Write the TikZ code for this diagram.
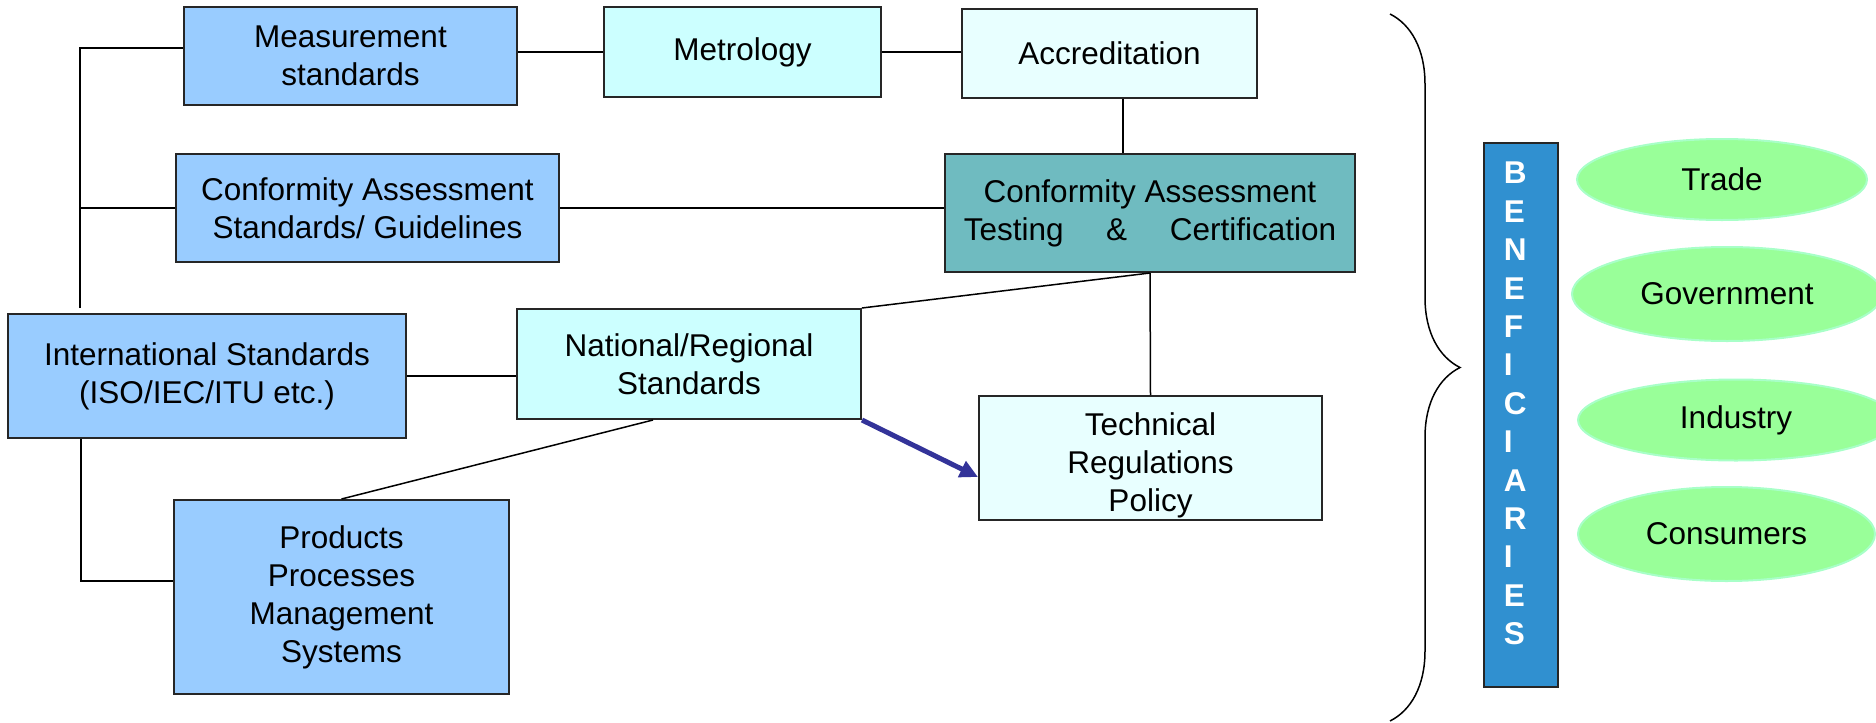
\documentclass[tikz,border=0pt]{standalone}
\usepackage{fontspec}
\setmainfont{Liberation Sans}
\usetikzlibrary{arrows.meta,shapes.geometric,decorations.pathreplacing}

\definecolor{stdblue}{HTML}{99CCFF}
\definecolor{natcyan}{HTML}{CCFFFF}
\definecolor{palecyan}{HTML}{E8FFFF}
\definecolor{casteal}{HTML}{6FBBC0}
\definecolor{benblue}{HTML}{3090D0}
\definecolor{benegreen}{HTML}{99FF99}
\definecolor{beneedge}{HTML}{A8FFC8}
\definecolor{arrowblue}{HTML}{333399}

\def\boxfont{\fontsize{15.75}{19}\selectfont}

\begin{document}
\begin{tikzpicture}[x=0.5pt, y=-0.5pt, line width=0.75pt]
  \tikzstyle{block}=[rectangle, draw=black!85, line width=1pt, align=center, font=\boxfont, inner sep=0pt]
  \tikzstyle{std block}=[block, fill=stdblue]
  \tikzstyle{nat block}=[block, fill=natcyan]
  \tikzstyle{pale block}=[block, fill=palecyan]
  \tikzstyle{ca block}=[block, fill=casteal]
  \tikzstyle{beneficiary}=[ellipse, fill=benegreen, draw=beneedge, line width=1pt, font=\boxfont, inner sep=0pt]
  \tikzstyle{ben letter}=[text=white, font=\boxfont\bfseries, inner sep=0pt, anchor=west]

  \useasboundingbox (0,0) rectangle (1876,723);

  % Draw the standards blocks
  \node[std block, minimum width=166.5pt, minimum height=49pt] (meas) at (350.5,56) {Measurement\\standards};
  \node[std block, minimum width=191.5pt, minimum height=54pt] (cas) at (367.5,208) {Conformity Assessment\\Standards/ Guidelines};
  \node[std block, minimum width=199pt, minimum height=62pt] (intl) at (207,376) {International Standards\\(ISO/IEC/ITU etc.)};
  \node[std block, minimum width=167.5pt, minimum height=97pt] (prod) at (341.5,597) {Products\\Processes\\Management\\Systems};

  % Draw the metrology / national blocks
  \node[nat block, minimum width=138.5pt, minimum height=45pt] (metro) at (742.5,52) {Metrology};
  \node[nat block, minimum width=172pt, minimum height=55pt] (natl) at (689,364) {National/Regional\\Standards};

  % Draw the accreditation, testing and regulation blocks
  \node[pale block, minimum width=147.5pt, minimum height=44.5pt] (accr) at (1109.5,53.5) {Accreditation};
  \node[ca block, minimum width=205pt, minimum height=59pt] (cat) at (1150,213) {Conformity Assessment\\Testing\hspace{1.35em}\&\hspace{1.35em}Certification};
  \node[pale block, minimum width=171.5pt, minimum height=62pt] (tech) at (1150.5,458) {\rule{0pt}{18.5pt}Technical\\Regulations\\Policy};

  % Connect blocks
  \coordinate (spine top) at (80,48);
  \coordinate (spine bot) at (80,308);
  \coordinate (prod corner) at (81,581);
  \draw (spine bot) -- (spine top) -- (spine top -| meas.west);
  \draw (cas.west) -- (cas.west -| spine top);
  \draw (intl.south -| prod corner) -- (prod corner) -- (prod corner -| prod.west);
  \draw (metro.west -| meas.east) -- (metro.west);
  \draw (metro.east) -- (metro.east -| accr.west);
  \draw ([xshift=6.75pt]accr.south) -- ([xshift=6.75pt]accr.south |- cat.north);
  \draw (cas.east) -- (cas.east -| cat.west);
  \draw (intl.east) -- (intl.east -| natl.west);
  \draw (cat.south) -- (natl.north east);
  \draw (cat.south) -- (tech.north);
  \draw ([xshift=-18pt]natl.south) -- (prod.north);
  \draw[arrowblue, line width=2.5pt, -{Triangle[length=9pt,width=8.5pt]}] (natl.south east) -- ([yshift=-9.5pt]tech.west);

  % Brace and beneficiaries
  \draw[decorate, decoration={brace, amplitude=35pt}] (1390,14) -- (1390,721);
  \node[draw=black!85, line width=1pt, fill=benblue, minimum width=37pt, minimum height=272pt, inner sep=0pt] (benbar) at (1521,415) {};
  \foreach \ch [count=\i from 0] in {B,E,N,E,F,I,C,I,A,R,I,E,S}
  \node[ben letter] (L-\i) at (1503,173+38.4*\i) {\ch};

  \node[beneficiary, minimum width=145pt, minimum height=40.5pt] (trade) at (1722,179.5) {Trade};
  \node[beneficiary, minimum width=155pt, minimum height=47pt] (govt) at (1727,294) {Government};
  \node[beneficiary, minimum width=158pt, minimum height=40.5pt] (indus) at (1736,420) {Industry};
  \node[beneficiary, minimum width=148.5pt, minimum height=47pt] (cons) at (1726.5,534) {Consumers};
\end{tikzpicture}
\end{document}
